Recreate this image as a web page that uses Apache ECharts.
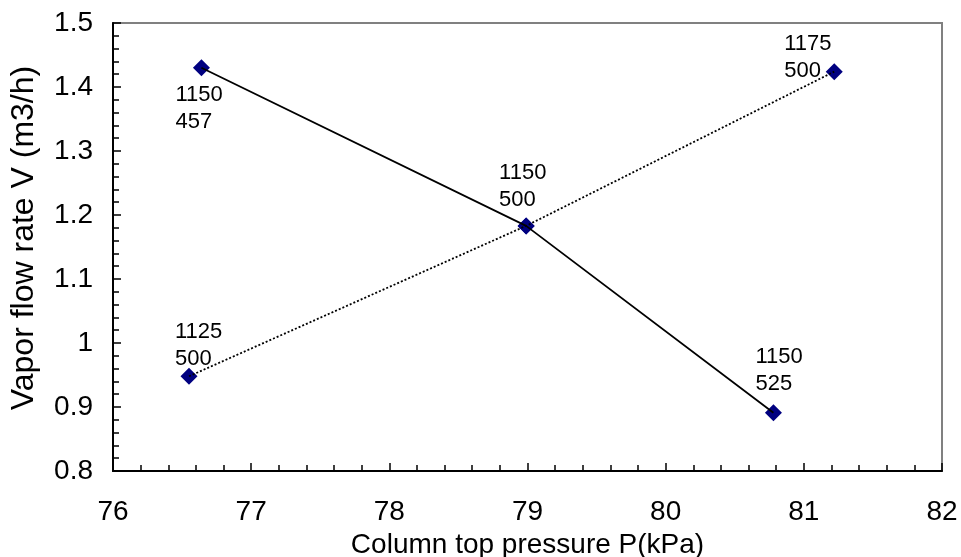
<!DOCTYPE html>
<html><head><meta charset="utf-8">
<script src="https://cdn.jsdelivr.net/npm/echarts@6/dist/echarts.min.js"></script>
<style>html,body{margin:0;padding:0;background:#fff}#c{width:961px;height:557px}</style>
</head><body><div id="c"></div>
<script>
// Series 1 (solid)
const solidX = [76.64, 78.99, 80.78];
const solidY = [1.430, 1.183, 0.891];
const solidLabels = ['1150\n457', '1150\n500', '1150\n525'];
// Series 2 (dotted)
const dotX = [76.55, 78.99, 81.22];
const dotY = [0.948, 1.183, 1.424];
const dotLabels = ['1125\n500', '1150\n500', '1175\n500'];
const xTitle = 'Column top pressure P(kPa)';
const yTitle = 'Vapor flow rate V (m3/h)';

const FONT = 'Liberation Sans, Arial, sans-serif';
const pair = (xs, ys) => xs.map((x, i) => [x, ys[i]]);
// label offsets relative to point centre (left/top of text block)
const solidOff = [[-26, 14], [-27, -66], [-18, -69]];
const dotOff = [[-14, -58], null, [-50, -41]];

function labelled(xs, ys, labels, offs) {
  return xs.map((x, i) => {
    const o = offs[i];
    if (!o) return { value: [x, ys[i]], label: { show: false } };
    return {
      value: [x, ys[i]],
      label: { show: true, formatter: labels[i], position: 'inside', align: 'left', verticalAlign: 'top', offset: o,
               color: '#000', fontSize: 22, lineHeight: 27, fontFamily: FONT }
    };
  });
}

const chart = echarts.init(document.getElementById('c'), null, { renderer: 'canvas' });
chart.setOption({
  animation: false,
  backgroundColor: '#fff',
  textStyle: { fontFamily: FONT },
  grid: { left: 113, top: 23, right: 19, bottom: 86, show: true, borderColor: '#808080', borderWidth: 2,
          backgroundColor: 'transparent', containLabel: false, outerBoundsMode: 'none' },
  graphic: [{
    type: 'text', rotation: Math.PI / 2, x: 24, y: 238,
    style: { text: yTitle, font: '32px ' + FONT, fill: '#000', textAlign: 'center', textVerticalAlign: 'middle' }
  }],
  xAxis: {
    type: 'value', min: 76, max: 82, interval: 1,
    name: xTitle, nameLocation: 'middle', nameGap: 55,
    nameTextStyle: { fontSize: 28, color: '#000', fontFamily: FONT },
    axisLine: { show: true, onZero: false, lineStyle: { color: '#000', width: 2 } },
    axisTick: { show: true, inside: true, length: 8, lineStyle: { color: '#000', width: 1.5 } },
    minorTick: { show: true, splitNumber: 5, length: 6, lineStyle: { color: '#000', width: 1.5 } },
    axisLabel: { fontSize: 28, color: '#000', margin: 27, fontFamily: FONT },
    splitLine: { show: false }
  },
  yAxis: {
    type: 'value', min: 0.8, max: 1.5, interval: 0.1,
    axisLine: { show: true, onZero: false, lineStyle: { color: '#000', width: 2 } },
    axisTick: { show: true, inside: true, length: 8, lineStyle: { color: '#000', width: 1.5 } },
    minorTick: { show: true, splitNumber: 5, length: 6, lineStyle: { color: '#000', width: 1.5 } },
    axisLabel: { fontSize: 28, color: '#000', margin: 20, fontFamily: FONT },
    splitLine: { show: false }
  },
  series: [
    { type: 'scatter', data: labelled(solidX, solidY, solidLabels, solidOff), symbol: 'diamond', symbolSize: 17,
      itemStyle: { color: '#000080', opacity: 1 }, z: 2 },
    { type: 'scatter', data: labelled(dotX, dotY, dotLabels, dotOff), symbol: 'diamond', symbolSize: 17,
      itemStyle: { color: '#000080', opacity: 1 }, z: 2 },
    { type: 'line', data: pair(solidX, solidY), showSymbol: false, symbol: 'none', z: 3,
      lineStyle: { color: '#000', width: 1.8, type: 'solid' } },
    { type: 'line', data: pair(dotX, dotY), showSymbol: false, symbol: 'none', z: 3,
      lineStyle: { color: '#000', width: 1.8, type: [2, 2] } }
  ]
});
</script></body></html>
